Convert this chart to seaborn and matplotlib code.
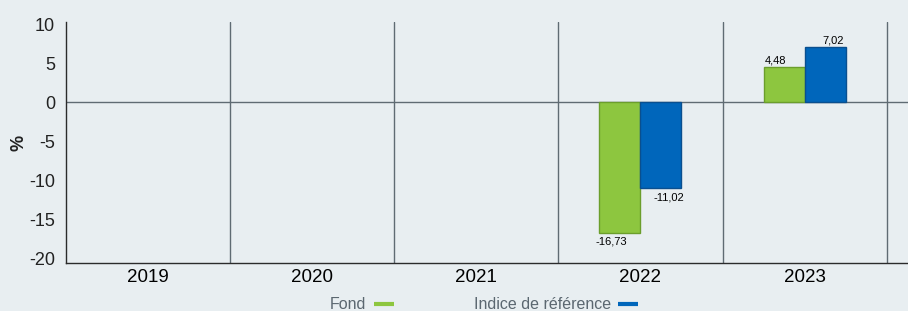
import matplotlib
matplotlib.use("Agg")
import matplotlib.pyplot as plt
from matplotlib.lines import Line2D
import numpy as np
import pandas as pd
import seaborn as sns

years = ["2019", "2020", "2021", "2022", "2023"]
fund_values = [np.nan, np.nan, np.nan, -16.73, 4.48]
index_values = [np.nan, np.nan, np.nan, -11.02, 7.02]
series_names = ["Fond", "Indice de référence"]
y_ticks = [10, 5, 0, -5, -10, -15, -20]

BG_COLOR = "#E8EEF1"
FUND_COLOR = "#8DC63F"
FUND_EDGE = "#6B9E2C"
INDEX_COLOR = "#0066BB"
INDEX_EDGE = "#0A4F8F"
GRID_COLOR = "#5F6B73"
TICK_COLOR = "#C9CFD3"
LEGEND_TEXT = "#5B6770"

sns.set_theme(style="white")
plt.rcParams["font.family"] = ["Liberation Sans", "DejaVu Sans"]

df = pd.DataFrame({
    "year": years * 2,
    "serie": [series_names[0]] * len(years) + [series_names[1]] * len(years),
    "value": fund_values + index_values,
}).dropna()

fig = plt.figure(figsize=(9.08, 3.11), dpi=100, facecolor=BG_COLOR)
ax = fig.add_axes([66 / 908, 48 / 311, 1 - 66 / 908, (263 - 22) / 311])
ax.set_facecolor(BG_COLOR)

sns.barplot(
    data=df, x="year", y="value", hue="serie", order=years,
    hue_order=series_names, palette=[FUND_COLOR, INDEX_COLOR],
    width=0.5, gap=0, legend=False, ax=ax, linewidth=1, saturation=1,
)

edges = {series_names[0]: FUND_EDGE, series_names[1]: INDEX_EDGE}
offsets = {series_names[0]: -6, series_names[1]: 6}
for container, name in zip(ax.containers, series_names):
    for bar in container:
        h = bar.get_height()
        if np.isnan(h):
            continue
        bar.set_edgecolor(edges[name])
        x = bar.get_x() + bar.get_width() / 2
        label = f"{h:.2f}".replace(".", ",")
        ax.annotate(
            label, (x, h), xytext=(offsets[name], 1 if h > 0 else -3),
            textcoords="offset points", ha="center",
            va="bottom" if h > 0 else "top", fontsize=8, color="black",
        )

ax.set_xlim(-0.5, 4.63)
ax.set_ylim(-20.64, 10.26)
ax.set_yticks(y_ticks)
ax.set_yticklabels([str(t) for t in y_ticks], fontsize=13, color="#222222")
ax.tick_params(axis="y", length=16, width=1, color=TICK_COLOR, direction="inout", pad=0)
ax.tick_params(axis="x", length=0, labelsize=13.5, labelcolor="black", pad=4)

for i in range(len(years)):
    ax.axvline(i + 0.5, color=GRID_COLOR, linewidth=1, zorder=0)
ax.axhline(0, color=GRID_COLOR, linewidth=1, zorder=0.5)

for side in ["top", "right"]:
    ax.spines[side].set_visible(False)
for side in ["left", "bottom"]:
    ax.spines[side].set_color("#2B2B2B")
    ax.spines[side].set_linewidth(1)

ax.set_xlabel("")
ax.set_ylabel("%", fontsize=13, fontweight="bold", color="#222222", labelpad=1)

handles = [
    Line2D([], [], color=FUND_COLOR, linewidth=3, solid_capstyle="butt"),
    Line2D([], [], color=INDEX_COLOR, linewidth=3, solid_capstyle="butt"),
]
fig.legend(
    handles, series_names, loc="lower center", bbox_to_anchor=(0.533, -0.05),
    ncol=2, frameon=False, markerfirst=False, handlelength=1.25,
    handletextpad=0.45, columnspacing=5.0, fontsize=11.5, labelcolor=LEGEND_TEXT,
)

fig.savefig("out.png", dpi=100, facecolor=BG_COLOR)
